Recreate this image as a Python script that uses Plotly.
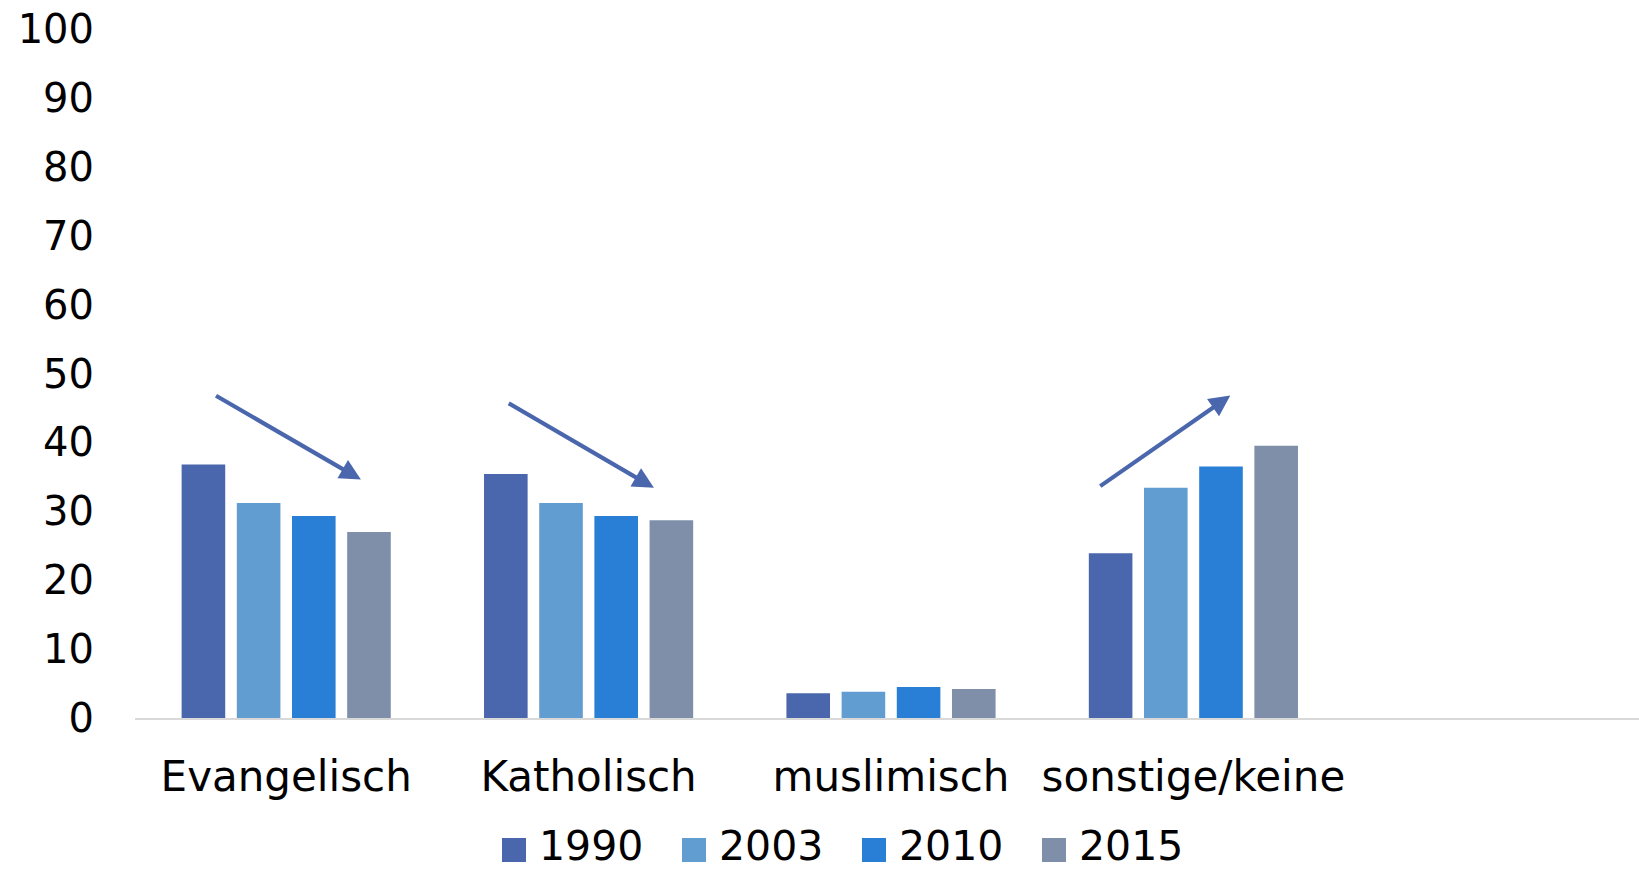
import plotly.graph_objects as go

# Religious affiliation shares (%) by survey year
categories = ["Evangelisch", "Katholisch", "muslimisch", "sonstige/keine", ""]
years = ["1990", "2003", "2010", "2015"]
values_1990 = [36.8, 35.4, 3.6, 23.9]
values_2003 = [31.2, 31.2, 3.8, 33.4]
values_2010 = [29.3, 29.3, 4.5, 36.5]
values_2015 = [27.0, 28.7, 4.2, 39.5]
y_ticks = [0, 10, 20, 30, 40, 50, 60, 70, 80, 90, 100]

series = [values_1990, values_2003, values_2010, values_2015]
colors = ["#4A66AC", "#629DD1", "#297FD5", "#7F8FA9"]

FONT = "DejaVu Sans"
W, H = 1639, 869
M_L, M_R, M_T, M_B = 135, 0, 29, 151
PW, PH = W - M_L - M_R, H - M_T - M_B
SLOT_PX = 302.4  # width of one category slot

fig = go.Figure()
for name, vals, col in zip(years, series, colors):
    fig.add_trace(go.Bar(
        x=categories[:len(vals)], y=vals, name=name,
        marker=dict(color=col, line=dict(width=0)),
        showlegend=False,
    ))

# Trend arrows (tail -> tip) in data coordinates
arrows = [
    ((-0.237, 46.9), (0.247, 34.6)),
    ((0.731, 45.8), (1.216, 33.4)),
    ((2.687, 33.5), (3.122, 46.8)),
]
annotations = []
for (ax, ay), (x, y) in arrows:
    annotations.append(dict(
        x=x, y=y, ax=ax, ay=ay, xref="x", yref="y", axref="x", ayref="y",
        text="", showarrow=True, arrowhead=2, arrowsize=1.0, arrowwidth=4.2,
        arrowcolor="#4A66AC", standoff=0, startstandoff=0,
    ))

# Legend row below the category labels
def px_to_paper_x(px):
    return (px - M_L) / PW

def px_to_paper_y(py):
    return (H - M_B - py) / PH

shapes = []
leg_x0, leg_pitch, sq, leg_cy, text_cy = 502, 180, 24, 850, 846
for i, (name, col) in enumerate(zip(years, colors)):
    x0 = leg_x0 + i * leg_pitch
    shapes.append(dict(
        type="rect", xref="paper", yref="paper",
        x0=px_to_paper_x(x0), x1=px_to_paper_x(x0 + sq),
        y0=px_to_paper_y(leg_cy + sq / 2), y1=px_to_paper_y(leg_cy - sq / 2),
        fillcolor=col, line=dict(width=0), layer="above",
    ))
    annotations.append(dict(
        x=px_to_paper_x(x0 + sq + 11), y=px_to_paper_y(text_cy),
        xref="paper", yref="paper", xanchor="left", yanchor="middle",
        text=name, showarrow=False, font=dict(family=FONT, size=41, color="#000000"),
    ))

fig.update_layout(
    width=W, height=H,
    margin=dict(l=M_L, r=M_R, t=M_T, b=M_B, pad=0),
    paper_bgcolor="white", plot_bgcolor="white",
    barmode="group", bargap=0.27, bargroupgap=0.21,
    font=dict(family=FONT, size=40, color="#000000"),
    showlegend=False,
    annotations=annotations,
    shapes=shapes,
    xaxis=dict(
        type="category", categoryorder="array", categoryarray=categories,
        range=[-0.5, -0.5 + PW / SLOT_PX],
        showgrid=False, zeroline=False,
        showline=True, linecolor="#D9D9D9", linewidth=2,
        ticks="", tickfont=dict(family=FONT, size=42, color="#000000"),
        ticklabelstandoff=21,
        fixedrange=True,
    ),
    yaxis=dict(
        range=[0, 100], tickvals=y_ticks,
        showgrid=False, zeroline=False, showline=False,
        ticks="", tickfont=dict(family=FONT, size=40, color="#000000"),
        ticklabelstandoff=40,
        fixedrange=True,
    ),
)

fig.write_html("out.html", config={"displayModeBar": False})
